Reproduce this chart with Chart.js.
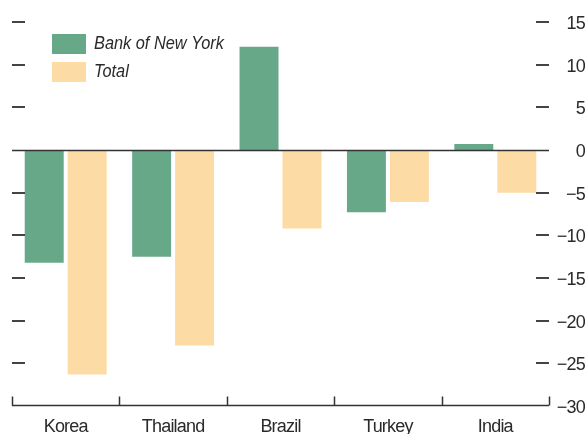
<!DOCTYPE html>
<html>
<head>
<meta charset="utf-8">
<script src="https://cdn.jsdelivr.net/npm/chart.js@4.4.1/dist/chart.umd.min.js"></script>
<style>
  html, body { margin: 0; padding: 0; background: #fff; }
</style>
</head>
<body>
<canvas id="chart" width="586" height="434"></canvas>
<script>
const countries = ["Korea", "Thailand", "Brazil", "Turkey", "India"];
const bankOfNewYork = [-13.2, -12.5, 12.1, -7.3, 0.7];
const total = [-26.3, -22.9, -9.2, -6.1, -5.0];
const yTicks = [15, 10, 5, 0, -5, -10, -15, -20, -25, -30];

const FONT = "'Liberation Sans Narrow', 'Arial Narrow', 'Liberation Sans', sans-serif";
const INK = "#333";
const TEXT = "#2a2a2a";
const GREEN = "#67a889";
const PEACH = "#fddba5";

// the reference uses a condensed face, tighten the spacing a bit
const tighten = {
  id: "tighten",
  beforeDraw(chart) { chart.ctx.letterSpacing = "-0.8px"; }
};

// axis dashes, zero line, bottom axis with category marks and the legend
const decor = {
  id: "decor",
  afterDatasetsDraw(chart) {
    const { ctx, chartArea: a, scales: { x, y } } = chart;
    ctx.save();
    ctx.strokeStyle = "#444";
    ctx.lineWidth = 2;
    yTicks.forEach(v => {
      if (v === 0 || v === yTicks[yTicks.length - 1]) return;
      const py = Math.round(y.getPixelForValue(v));
      ctx.beginPath();
      ctx.moveTo(a.left, py); ctx.lineTo(a.left + 13, py);
      ctx.moveTo(a.right - 13, py); ctx.lineTo(a.right, py);
      ctx.stroke();
    });

    // zero line
    ctx.strokeStyle = INK;
    ctx.lineWidth = 1.5;
    const y0 = Math.round(y.getPixelForValue(0)) + 0.5;
    ctx.beginPath();
    ctx.moveTo(a.left, y0); ctx.lineTo(a.right, y0);
    ctx.stroke();

    // bottom axis
    const yb = Math.round(y.getPixelForValue(yTicks[yTicks.length - 1])) - 0.5;
    ctx.beginPath();
    ctx.moveTo(a.left, yb); ctx.lineTo(a.right, yb);
    const n = countries.length;
    for (let i = 0; i <= n; i++) {
      const px = Math.round(a.left + i * (a.right - a.left) / n) + 0.5;
      ctx.moveTo(px, yb); ctx.lineTo(px, yb - 9);
    }
    ctx.stroke();

    // legend
    ctx.font = "italic 19px " + FONT;
    ctx.letterSpacing = "0px";
    ctx.textBaseline = "middle";
    chart.data.datasets.forEach((ds, i) => {
      const top = 34 + i * 28;
      ctx.fillStyle = ds.backgroundColor;
      ctx.fillRect(52, top, 34, 20);
      ctx.save();
      ctx.translate(94, top + 10);
      ctx.scale(0.86, 1);
      ctx.fillStyle = TEXT;
      ctx.fillText(ds.label, 0, 0);
      ctx.restore();
    });
    ctx.restore();
  }
};

new Chart(document.getElementById("chart"), {
  type: "bar",
  data: {
    labels: countries,
    datasets: [
      { label: "Bank of New York", data: bankOfNewYork, backgroundColor: GREEN },
      { label: "Total", data: total, backgroundColor: PEACH }
    ]
  },
  options: {
    responsive: false,
    animation: false,
    devicePixelRatio: 1,
    layout: { padding: { left: 12, top: 22, right: 1, bottom: 0 } },
    datasets: {
      bar: { categoryPercentage: 0.8, barPercentage: 0.907 }
    },
    plugins: {
      legend: { display: false },
      tooltip: { enabled: false }
    },
    scales: {
      x: {
        grid: { display: false, drawTicks: false },
        border: { display: false },
        ticks: { color: TEXT, font: { family: FONT, size: 18 }, padding: 10 },
        afterFit: s => { s.height = 28; }
      },
      y: {
        position: "right",
        min: -30,
        max: 15,
        grid: { display: false, drawTicks: false },
        border: { display: false },
        ticks: {
          stepSize: 5,
          crossAlign: "far",
          labelOffset: 2,
          color: TEXT,
          font: { family: FONT, size: 18 },
          callback: v => v < 0 ? "\u2212" + Math.abs(v) : String(v)
        },
        afterFit: s => { s.width = 36; }
      }
    }
  },
  plugins: [tighten, decor]
});
</script>
</body>
</html>
